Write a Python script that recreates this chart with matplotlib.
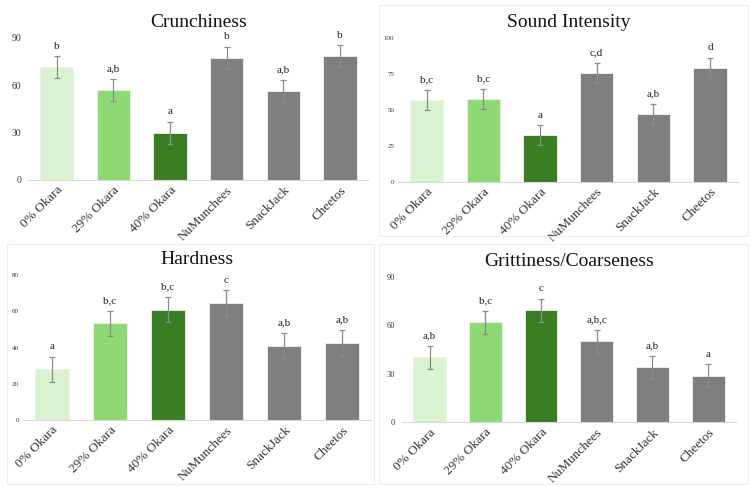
import numpy as np
import matplotlib
matplotlib.use("Agg")
import matplotlib.pyplot as plt
from matplotlib.patches import Rectangle

plt.rcParams["font.family"] = ["Liberation Serif", "DejaVu Serif"]

# ---------- data ----------
categories = ["0% Okara", "29% Okara", "40% Okara", "NuMunchees", "SnackJack", "Cheetos"]
colors = ["#d9f2d0", "#8ed973", "#3b7d23", "#7f7f7f", "#7f7f7f", "#7f7f7f"]

crunch_vals = [71.5, 57, 29.8, 77.5, 56.5, 78.5]
crunch_err = [7, 7, 7, 7, 7, 7]
crunch_lbl = ["b", "a,b", "a", "b", "a,b", "b"]

sound_vals = [57, 57.5, 32.5, 75.8, 47, 79.3]
sound_err = [7, 7, 7, 7, 7, 7]
sound_lbl = ["b,c", "b,c", "a", "c,d", "a,b", "d"]

hard_vals = [28, 53.3, 60.9, 64.5, 41, 42.5]
hard_err = [7, 7, 7, 7, 7, 7]
hard_lbl = ["a", "b,c", "b,c", "c", "a,b", "a,b"]

grit_vals = [40.2, 61.8, 69.2, 50, 34, 28.8]
grit_err = [7, 7, 7, 7, 7, 7]
grit_lbl = ["a,b", "b,c", "c", "a,b,c", "a,b", "a"]

W, H = 751, 487
fig = plt.figure(figsize=(W / 100, H / 100), dpi=100)


def px_axes(x0, x1, y0, y1):
    # y0 = top pixel, y1 = bottom pixel
    return fig.add_axes([x0 / W, 1 - y1 / H, (x1 - x0) / W, (y1 - y0) / H])


def panel(ax, title, vals, err, lbls, ymax, step, tick_fs, tick_pad):
    x = np.arange(len(categories))
    ax.bar(x, vals, width=0.59, color=colors, edgecolor="#f2f2f2", linewidth=0.6, zorder=2)
    ax.errorbar(x, vals, yerr=err, fmt="none", ecolor="#8c8c8c",
                elinewidth=0.9, capsize=2, capthick=0.9, zorder=3)
    for xi, v, e, t in zip(x, vals, err, lbls):
        ax.annotate(t, (xi, v + e), xytext=(0, 4), textcoords="offset points",
                    ha="center", va="bottom", fontsize=8, color="#222222")
    ax.set_xlim(-0.5, 5.5)
    ax.set_ylim(0, ymax)
    ax.set_yticks(np.arange(0, ymax + 1, step))
    ax.set_xticks(x)
    ax.set_xticklabels(categories, rotation=45, ha="right", rotation_mode="anchor",
                       fontsize=9.5, color="#333333")
    ax.tick_params(axis="y", length=0, labelsize=tick_fs, pad=tick_pad, colors="#333333")
    ax.tick_params(axis="x", length=0, pad=3)
    for s in ["top", "right", "left"]:
        ax.spines[s].set_visible(False)
    ax.spines["bottom"].set_color("#d9d9d9")
    ax.set_facecolor("none")
    ax.set_title(title, fontsize=14, pad=8, color="#111111")


# faint chart-area borders
for (x0, y0, x1, y1) in [(379, 5, 748, 236), (7, 244, 374, 484), (379, 244, 748, 484)]:
    fig.patches.append(Rectangle((x0 / W, 1 - y1 / H), (x1 - x0) / W, (y1 - y0) / H,
                                 transform=fig.transFigure, fill=False,
                                 edgecolor="#eeeeee", linewidth=0.8))

ax1 = px_axes(28.3, 368.3, 38, 180)
panel(ax1, "Crunchiness", crunch_vals, crunch_err, crunch_lbl, 90, 30, 7, 5)

ax2 = px_axes(398.3, 738.3, 38.3, 181.7)
panel(ax2, "Sound Intensity", sound_vals, sound_err, sound_lbl, 100, 25, 5, 3)

ax3 = px_axes(23, 371, 275, 420)
panel(ax3, "Hardness", hard_vals, hard_err, hard_lbl, 80, 20, 5, 3)

ax4 = px_axes(401.8, 736, 276.7, 422.3)
panel(ax4, "Grittiness/Coarseness", grit_vals, grit_err, grit_lbl, 90, 30, 6, 5)

fig.savefig("out.png", dpi=100, facecolor="white")
